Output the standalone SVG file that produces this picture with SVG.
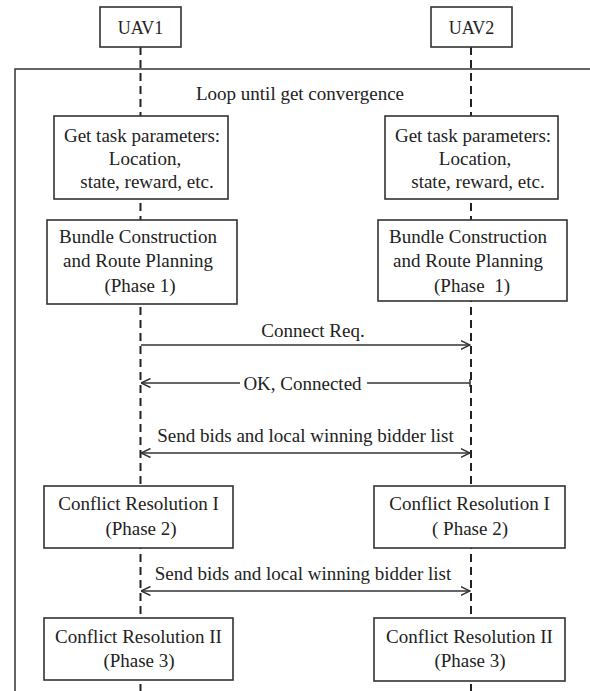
<svg xmlns="http://www.w3.org/2000/svg" width="590" height="691" viewBox="0 0 590 691">
<style>
text{font-size:19px;fill:#222;text-anchor:middle}
.pre{white-space:pre}
.box{fill:#fff;stroke:#333;stroke-width:1.6}
.life{stroke:#222;stroke-width:2;stroke-dasharray:8 5;fill:none}
.msg{stroke:#333;stroke-width:1.5;fill:none}
.frame{stroke:#333;stroke-width:1.5;fill:none}
</style>
<defs>
<marker id="arr" viewBox="0 0 10 10" refX="9.5" refY="5" markerWidth="10" markerHeight="10" markerUnits="userSpaceOnUse" orient="auto-start-reverse">
<path d="M0,0.5 L9.5,5 L0,9.5" fill="none" stroke="#333" stroke-width="1.5"/>
</marker>
</defs>
<g font-family="Liberation Serif, Times New Roman, serif">
<g id="frame">
<path class="frame" d="M15,691 V69 H590"/>
<text x="300" y="100">Loop until get convergence</text>
</g>
<g id="lifelines">
<line class="life" x1="140.5" y1="47" x2="140.5" y2="691"/>
<line class="life" x1="471" y1="47" x2="471" y2="691"/>
</g>
<g id="uav1"><rect class="box" x="100" y="7" width="81" height="40"/><text x="140.5" y="34" style="font-size:18px">UAV1</text></g>
<g id="uav2"><rect class="box" x="431" y="7" width="81" height="40"/><text x="471.5" y="34" style="font-size:18px">UAV2</text></g>
<g id="task1"><rect class="box" x="54" y="116" width="174" height="83"/>
<text x="142" y="142">Get task parameters:</text><text x="145" y="165">Location,</text><text x="147" y="188">state, reward, etc.</text></g>
<g id="task2"><rect class="box" x="385" y="116" width="173" height="83"/>
<text x="473" y="142">Get task parameters:</text><text x="475" y="165">Location,</text><text x="478" y="188">state, reward, etc.</text></g>
<g id="bundle1"><rect class="box" x="47" y="220" width="190" height="84"/>
<text x="138" y="243">Bundle Construction</text><text x="138" y="267">and Route Planning</text><text x="140" y="292">(Phase 1)</text></g>
<g id="bundle2"><rect class="box" x="378" y="220" width="189" height="81"/>
<text x="468" y="243">Bundle Construction</text><text x="468" y="267">and Route Planning</text><text class="pre" x="472" y="292">(Phase  1)</text></g>
<g id="cr1a"><rect class="box" x="44" y="486" width="189" height="62"/>
<text x="138.5" y="510">Conflict Resolution I</text><text x="141" y="535">(Phase 2)</text></g>
<g id="cr1b"><rect class="box" x="374" y="486" width="191" height="62"/>
<text x="469.5" y="510">Conflict Resolution I</text><text class="pre" x="470" y="535">( Phase 2)</text></g>
<g id="cr2a"><rect class="box" x="44" y="618" width="189" height="62"/>
<text x="138.5" y="643">Conflict Resolution II</text><text x="139" y="667">(Phase 3)</text></g>
<g id="cr2b"><rect class="box" x="374" y="618" width="191" height="63"/>
<text x="469.5" y="643">Conflict Resolution II</text><text x="470" y="667">(Phase 3)</text></g>
<g id="connectors">
<line class="msg" x1="141" y1="345" x2="470" y2="345" marker-end="url(#arr)"/>
<text x="313" y="337">Connect Req.</text>
<line class="msg" x1="470" y1="383" x2="367" y2="383"/>
<line class="msg" x1="470" y1="379" x2="470" y2="387"/>
<line class="msg" x1="240" y1="383" x2="141" y2="383" marker-end="url(#arr)"/>
<text x="302.5" y="390">OK, Connected</text>
<line class="msg" x1="141" y1="453" x2="470" y2="453" marker-start="url(#arr)" marker-end="url(#arr)"/>
<text x="305.5" y="442">Send bids and local winning bidder list</text>
<line class="msg" x1="141" y1="591" x2="470" y2="591" marker-start="url(#arr)" marker-end="url(#arr)"/>
<text x="303" y="580">Send bids and local winning bidder list</text>
</g>
</g>
</svg>
